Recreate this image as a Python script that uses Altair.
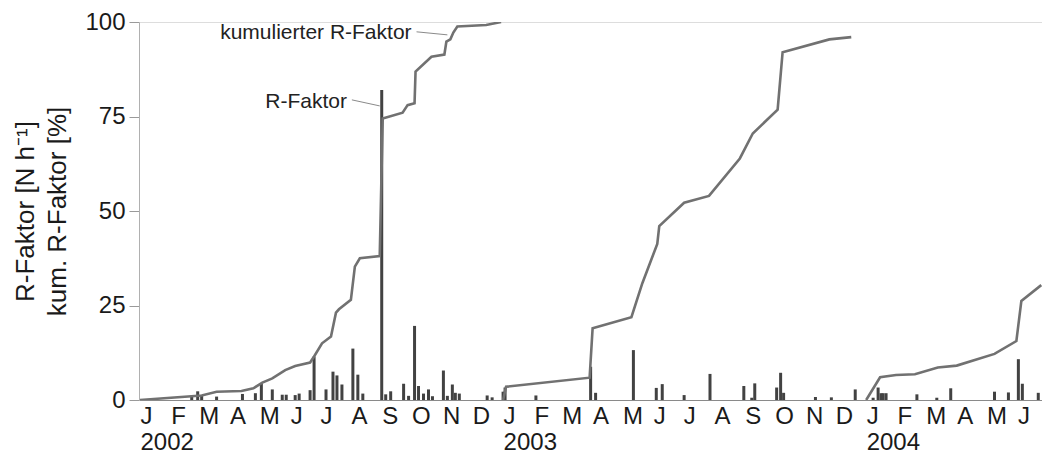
import json
import altair as alt
import pandas as pd

# ---------------- data ----------------
# single erosive events: R-Faktor [N h^-1]
bar_dates = [
    "2002-02-22", "2002-02-28", "2002-03-04", "2002-03-19", "2002-04-14", "2002-04-27",
    "2002-05-03", "2002-05-14", "2002-05-24", "2002-05-28", "2002-06-06", "2002-06-10",
    "2002-06-21", "2002-06-25", "2002-07-07", "2002-07-14", "2002-07-18", "2002-07-23",
    "2002-08-03", "2002-08-08", "2002-08-13", "2002-09-01", "2002-09-05", "2002-09-10",
    "2002-09-23", "2002-09-28", "2002-10-04", "2002-10-08", "2002-10-13", "2002-10-18",
    "2002-10-22", "2002-11-02", "2002-11-06", "2002-11-11", "2002-11-14", "2002-11-18",
    "2002-12-16", "2002-12-21",
    "2003-01-01", "2003-01-03", "2003-02-03", "2003-03-30", "2003-04-04", "2003-05-12",
    "2003-06-04", "2003-06-10", "2003-07-02", "2003-07-28", "2003-08-31", "2003-09-08",
    "2003-09-11", "2003-10-03", "2003-10-07", "2003-10-10", "2003-11-11", "2003-11-27",
    "2003-12-21",
    "2004-01-08", "2004-01-13", "2004-01-16", "2004-01-18", "2004-01-21", "2004-02-21",
    "2004-03-12", "2004-03-26", "2004-05-09", "2004-05-23", "2004-06-02", "2004-06-06",
    "2004-06-22",
]
bar_values = [
    1.1, 2.3, 1.2, 0.9, 1.6, 1.8,
    4.4, 2.8, 1.4, 1.4, 1.3, 1.7,
    2.6, 11.5, 2.8, 7.5, 6.5, 4.1,
    13.6, 6.7, 1.7, 82.0, 1.5, 2.3,
    4.3, 1.1, 19.6, 3.7, 1.7, 2.8,
    1.0, 7.8, 1.1, 4.1, 1.9, 1.7,
    1.2, 0.7,
    2.2, 3.3, 1.2, 8.8, 1.9, 13.2,
    3.2, 4.2, 1.3, 6.9, 3.7, 0.6,
    4.4, 3.3, 7.2, 1.9, 0.8, 0.7,
    2.8,
    0.6, 3.3, 1.8, 1.8, 1.8, 1.5,
    0.6, 3.1, 2.2, 2.0, 10.8, 4.3,
    1.9,
]

# cumulative R-Faktor [%] per year
cum_2002_dates = [
    "2002-01-01", "2002-03-04", "2002-03-19", "2002-04-13", "2002-04-25", "2002-05-04",
    "2002-05-14", "2002-05-27", "2002-06-06", "2002-06-21", "2002-06-25", "2002-07-03",
    "2002-07-12", "2002-07-17", "2002-07-20", "2002-08-01", "2002-08-05", "2002-08-10",
    "2002-08-30", "2002-09-02", "2002-09-22", "2002-09-27", "2002-10-04", "2002-10-05",
    "2002-10-21", "2002-11-03", "2002-11-05", "2002-11-09", "2002-11-12", "2002-11-16",
    "2002-12-15", "2002-12-30",
]
cum_2002_values = [
    0.0, 1.2, 2.2, 2.4, 3.1, 4.6,
    5.7, 7.9, 9.0, 9.9, 11.5, 15.0,
    16.8, 23.1, 24.0, 26.5, 35.3, 37.5,
    38.1, 74.5, 76.0, 78.0, 78.5, 86.9,
    90.8, 91.4, 94.8, 95.4, 97.2, 98.8,
    99.2, 100.0,
]
cum_2003_dates = [
    "2003-01-01", "2003-01-04", "2003-03-29", "2003-04-01", "2003-05-10", "2003-05-21",
    "2003-06-05", "2003-06-07", "2003-07-02", "2003-07-27", "2003-08-27", "2003-09-09",
    "2003-10-04", "2003-10-09", "2003-11-25", "2003-12-17",
]
cum_2003_values = [
    0.0, 3.5, 5.9, 19.0, 21.9, 30.9,
    41.3, 46.0, 52.2, 54.0, 63.9, 70.5,
    76.8, 92.0, 95.4, 96.0,
]
cum_2004_dates = [
    "2004-01-01", "2004-01-15", "2004-01-31", "2004-02-19", "2004-03-13", "2004-04-01",
    "2004-05-09", "2004-05-31", "2004-06-05", "2004-06-25",
]
cum_2004_values = [
    0.0, 6.0, 6.6, 6.8, 8.6, 9.1,
    12.2, 15.6, 26.2, 30.4,
]

month_letters = ["J", "F", "M", "A", "M", "J", "J", "A", "S", "O", "N", "D"]
y_ticks = [0, 25, 50, 75, 100]
y_title = ["R-Faktor [N h\u207b\u00b9]", "kum. R-Faktor [%]"]

annot_labels = ["kumulierter R-Faktor", "R-Faktor"]
annot_dates = ["2002-10-01", "2002-07-28"]
annot_values = [97.1, 78.8]
leader_start_dates = ["2002-10-06", "2002-08-02"]
leader_start_values = [97.4, 79.4]
leader_end_dates = ["2002-11-06", "2002-08-30"]
leader_end_values = [96.6, 77.8]

# ---------------- tables ----------------
bars = pd.DataFrame({"Datum": bar_dates, "Wert": bar_values})
lines = pd.concat([
    pd.DataFrame({"Datum": cum_2002_dates, "Wert": cum_2002_values, "Jahr": "2002"}),
    pd.DataFrame({"Datum": cum_2003_dates, "Wert": cum_2003_values, "Jahr": "2003"}),
    pd.DataFrame({"Datum": cum_2004_dates, "Wert": cum_2004_values, "Jahr": "2004"}),
], ignore_index=True)
annots = pd.DataFrame({"Datum": annot_dates, "Wert": annot_values, "Text": annot_labels})
leaders = pd.DataFrame({
    "Datum": leader_start_dates, "Wert": leader_start_values,
    "Datum2": leader_end_dates, "Wert2": leader_end_values,
})

# ---------------- scales / axes ----------------
tick_dates = [alt.DateTime(year=y, month=m, date=1, utc=True)
              for y in (2002, 2003, 2004) for m in range(1, 13)
              if not (y == 2004 and m > 6)]
label_expr = (
    "[" + json.dumps(month_letters) + "[utcmonth(datum.value)], "
    "utcmonth(datum.value) == 0 ? utcFormat(datum.value, '%Y') : '']"
)

x_scale = alt.Scale(
    type="utc",
    domain=[alt.DateTime(year=2001, month=12, date=31, utc=True),
            alt.DateTime(year=2004, month=6, date=25, hours=18, utc=True)],
    nice=False,
)
x_axis = alt.Axis(
    values=tick_dates, labelExpr=label_expr, title=None,
    ticks=False, grid=False, domainColor="#8a8a8a", domainWidth=1.2,
    labelAlign="left", labelBaseline="top", labelPadding=4,
    labelFontSize=24, labelLineHeight=26, labelColor="#1a1a1a",
    labelOverlap=False, labelFlush=False, labelBound=False,
)
y_scale = alt.Scale(domain=[0, 100], nice=False, zero=True)
y_axis = alt.Axis(
    values=y_ticks, title=y_title, grid=False,
    tickSize=10, tickColor="#9a9a9a", domainColor="#b0b0b0",
    labelFontSize=24, labelPadding=4, labelColor="#1a1a1a",
    titleFontSize=26, titleFontWeight="normal", titleColor="#1a1a1a",
    titleLineHeight=32, titlePadding=14,
)

X = alt.X("Datum:T", scale=x_scale, axis=x_axis)
Y = alt.Y("Wert:Q", scale=y_scale, axis=y_axis)

bar_layer = alt.Chart(bars).mark_rule(
    color="#424242", strokeWidth=3, strokeCap="butt", clip=True
).encode(x=X, y=Y, y2=alt.datum(0))

line_layer = alt.Chart(lines).mark_line(
    color="#717171", strokeWidth=2.6, clip=True
).encode(x=X, y=Y, detail="Jahr:N")

text_layer = alt.Chart(annots).mark_text(
    align="right", baseline="middle", fontSize=21, color="#222222"
).encode(x=X, y=Y, text="Text:N")

leader_layer = alt.Chart(leaders).mark_rule(
    color="#8a8a8a", strokeWidth=1
).encode(x=X, y=Y, x2="Datum2:T", y2="Wert2:Q")

chart = alt.layer(bar_layer, line_layer, leader_layer, text_layer).properties(
    width=903, height=378,
    padding={"left": 139, "top": 22, "right": 0, "bottom": 57},
    autosize=alt.AutoSizeParams(type="none"),
).configure_view(stroke=None).configure(font="Liberation Sans")

chart.save("out.html", embed_options={"renderer": "svg", "actions": False})
